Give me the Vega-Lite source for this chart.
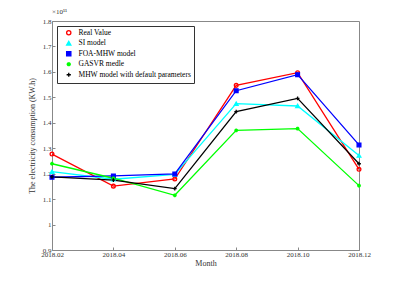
{
  "$schema": "https://vega.github.io/schema/vega-lite/v6.json",
  "width": 307,
  "height": 229,
  "autosize": {"type": "none"},
  "padding": {"left": 52, "top": 21, "right": 38, "bottom": 31},
  "background": "white",
  "title": {"text": "×10¹¹", "anchor": "start", "frame": "group", "fontSize": 7, "fontWeight": "normal", "font": "Liberation Serif", "color": "#333", "offset": 2},
  "config": {
    "view": {"stroke": "#888", "strokeWidth": 1},
    "font": "Liberation Serif",
    "axis": {"grid": false, "domainColor": "#888", "tickColor": "#888", "labelColor": "#333", "labelFont": "Liberation Serif", "labelFontSize": 7, "titleFont": "Liberation Serif", "titleFontSize": 8, "titleFontWeight": "normal", "titleColor": "#333", "tickSize": -3},
    "legend": {"orient": "top-left", "offset": 5, "fillColor": "white", "strokeColor": "#333", "padding": 3, "labelFont": "Liberation Serif", "labelFontSize": 7.5, "labelColor": "#000", "symbolSize": 18, "rowPadding": 0.5, "labelOffset": 6, "symbolOffset": 5, "symbolStrokeWidth": 1.3}
  },
  "data": {"values": [
    {"series": "Real Value", "month": "2018.02", "value": 1.277},
    {"series": "Real Value", "month": "2018.04", "value": 1.151},
    {"series": "Real Value", "month": "2018.06", "value": 1.179},
    {"series": "Real Value", "month": "2018.08", "value": 1.547},
    {"series": "Real Value", "month": "2018.10", "value": 1.597},
    {"series": "Real Value", "month": "2018.12", "value": 1.217},
    {"series": "SI model", "month": "2018.02", "value": 1.208},
    {"series": "SI model", "month": "2018.04", "value": 1.178},
    {"series": "SI model", "month": "2018.06", "value": 1.197},
    {"series": "SI model", "month": "2018.08", "value": 1.475},
    {"series": "SI model", "month": "2018.10", "value": 1.466},
    {"series": "SI model", "month": "2018.12", "value": 1.271},
    {"series": "FOA-MHW model", "month": "2018.02", "value": 1.186},
    {"series": "FOA-MHW model", "month": "2018.04", "value": 1.191},
    {"series": "FOA-MHW model", "month": "2018.06", "value": 1.199},
    {"series": "FOA-MHW model", "month": "2018.08", "value": 1.526},
    {"series": "FOA-MHW model", "month": "2018.10", "value": 1.589},
    {"series": "FOA-MHW model", "month": "2018.12", "value": 1.313},
    {"series": "GASVR medle", "month": "2018.02", "value": 1.239},
    {"series": "GASVR medle", "month": "2018.04", "value": 1.182},
    {"series": "GASVR medle", "month": "2018.06", "value": 1.115},
    {"series": "GASVR medle", "month": "2018.08", "value": 1.370},
    {"series": "GASVR medle", "month": "2018.10", "value": 1.377},
    {"series": "GASVR medle", "month": "2018.12", "value": 1.153},
    {"series": "MHW model with default parameters", "month": "2018.02", "value": 1.187},
    {"series": "MHW model with default parameters", "month": "2018.04", "value": 1.175},
    {"series": "MHW model with default parameters", "month": "2018.06", "value": 1.141},
    {"series": "MHW model with default parameters", "month": "2018.08", "value": 1.444},
    {"series": "MHW model with default parameters", "month": "2018.10", "value": 1.496},
    {"series": "MHW model with default parameters", "month": "2018.12", "value": 1.239}
  ]},
  "encoding": {
    "x": {"field": "month", "type": "ordinal", "scale": {"type": "point", "padding": 0}, "axis": {"title": "Month", "labelAngle": 0, "titlePadding": 2, "labelPadding": 3}},
    "y": {"field": "value", "type": "quantitative", "scale": {"domain": [0.9, 1.8], "zero": false, "nice": false}, "axis": {"title": "The electricity consumption (KW.h)", "values": [0.9, 1.0, 1.1, 1.2, 1.3, 1.4, 1.5, 1.6, 1.7, 1.8], "format": "~g", "titlePadding": 6, "labelPadding": 4}},
    "color": {"field": "series", "type": "nominal", "title": null, "scale": {"domain": ["Real Value", "SI model", "FOA-MHW model", "GASVR medle", "MHW model with default parameters"], "range": ["#ff0000", "#00ffff", "#0000ff", "#00ff00", "#000000"]},
      "legend": {"encode": {"symbols": {"enter": {"shape": {"signal": "datum.value === 'Real Value' ? 'M-3,0L3,0M1.2,0A1.2,1.2 0 1,1 -1.2,0A1.2,1.2 0 1,1 1.2,0' : datum.value === 'SI model' ? 'M-3,0L3,0M0,-1.3L1.2,0.9L-1.2,0.9Z' : datum.value === 'FOA-MHW model' ? 'M-3,0L3,0M-0.9,-0.9L0.9,-0.9L0.9,0.9L-0.9,0.9Z' : datum.value === 'GASVR medle' ? 'M-3,0L3,0M0,-1L0,1M-0.7,-0.7L0.7,0.7M-0.7,0.7L0.7,-0.7' : 'M-3,0L3,0M0,-1.1L0,1.1'"}}, "update": {"shape": {"signal": "datum.value === 'Real Value' ? 'M-3,0L3,0M1.2,0A1.2,1.2 0 1,1 -1.2,0A1.2,1.2 0 1,1 1.2,0' : datum.value === 'SI model' ? 'M-3,0L3,0M0,-1.3L1.2,0.9L-1.2,0.9Z' : datum.value === 'FOA-MHW model' ? 'M-3,0L3,0M-0.9,-0.9L0.9,-0.9L0.9,0.9L-0.9,0.9Z' : datum.value === 'GASVR medle' ? 'M-3,0L3,0M0,-1L0,1M-0.7,-0.7L0.7,0.7M-0.7,0.7L0.7,-0.7' : 'M-3,0L3,0M0,-1.1L0,1.1'"}}}}}}
  },
  "layer": [
    {
      "mark": {"type": "line", "strokeWidth": 1.3}
    },
    {
      "mark": {"type": "point", "size": 14, "strokeWidth": 1.3, "opacity": 1},
      "encoding": {
        "shape": {"field": "series", "type": "nominal", "title": null, "scale": {"domain": ["Real Value", "SI model", "FOA-MHW model", "GASVR medle", "MHW model with default parameters"], "range": ["circle", "triangle-up", "square", "M-1,0L1,0M0,-1L0,1M-0.7,-0.7L0.7,0.7M-0.7,0.7L0.7,-0.7", "M-1,0L1,0M0,-1L0,1"]}, "legend": null},
        "fill": {"field": "series", "type": "nominal", "title": null, "scale": {"domain": ["Real Value", "SI model", "FOA-MHW model", "GASVR medle", "MHW model with default parameters"], "range": ["transparent", "#00ffff", "#0000ff", "#00ff00", "#000000"]}, "legend": null}
      }
    }
  ]
}
